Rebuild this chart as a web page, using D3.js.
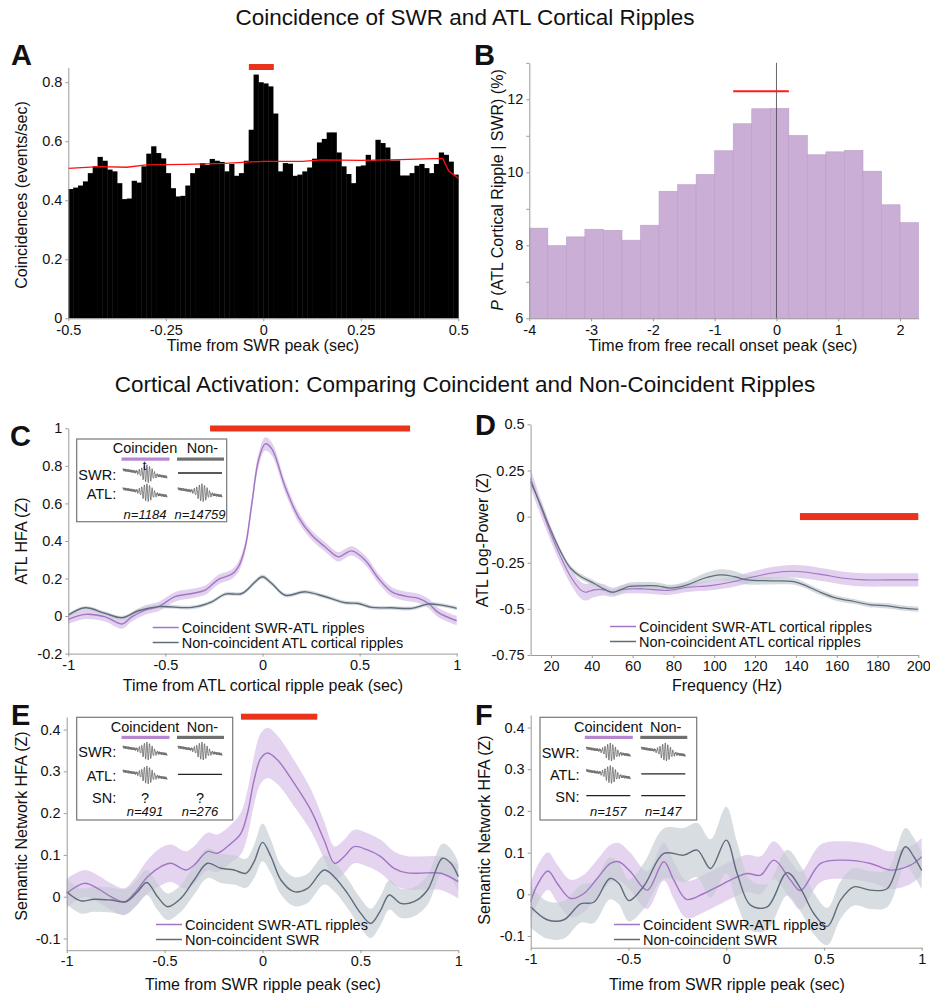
<!doctype html>
<html lang="en">
<head>
<meta charset="utf-8">
<title>Coincidence of SWR and ATL Cortical Ripples</title>
<script src="https://cdn.jsdelivr.net/npm/d3@7"></script>
<style>
body { margin: 0; background: #fff; }
</style>
</head>
<body>
<div id="chart"></div>
<script>

// ---- data ----

// A: coincidence histogram, 80 bins of 12.5 ms from -0.5 s
var aBinStart = -0.5, aBinWidth = 0.0125;
var aCounts = [0.438,0.443,0.45,0.464,0.492,0.515,0.547,0.534,0.504,0.498,
               0.458,0.404,0.406,0.466,0.46,0.515,0.558,0.583,0.56,0.542,
               0.492,0.441,0.413,0.415,0.45,0.492,0.509,0.526,0.52,0.54,
               0.534,0.53,0.498,0.523,0.483,0.492,0.534,0.639,0.826,0.80,
               0.796,0.786,0.694,0.498,0.526,0.524,0.483,0.487,0.498,0.511,
               0.541,0.596,0.608,0.63,0.63,0.562,0.515,0.489,0.458,0.515,
               0.518,0.554,0.535,0.605,0.594,0.579,0.535,0.535,0.484,0.484,
               0.492,0.517,0.523,0.509,0.492,0.523,0.562,0.554,0.531,0.487];
// A: expected (shuffled) rate, red line
var aExpected = [[-0.5,0.508],[-0.42,0.514],[-0.35,0.512],[-0.3,0.52],[-0.2,0.522],
                 [-0.1,0.525],[0,0.532],[0.1,0.532],[0.15,0.537],[0.25,0.535],
                 [0.35,0.538],[0.46,0.542],[0.475,0.50],[0.5,0.475]];
var aSig = [-0.037, 0.027];

// B: P(ATL ripple | SWR), 0.3 s bins from -4 s
var bBinStart = -4, bBinWidth = 0.3;
var bValues = [8.47,7.99,8.23,8.44,8.41,8.14,8.55,9.48,9.66,9.94,10.59,
               11.33,11.74,11.75,11.01,10.48,10.56,10.6,10.03,9.11,8.62];
var bSig = [-0.7, 0.2], bSigY = 12.22;

// C: ATL HFA, [time, mean, sem]
var cCoinc = [[-1,-0.018,.025],[-0.913,0.009,.025],[-0.81,-0.004,.025],[-0.724,-0.042,.025],
  [-0.673,-0.004,.025],[-0.604,0.032,.025],[-0.536,0.05,.025],[-0.45,0.103,.025],
  [-0.364,0.12,.025],[-0.295,0.138,.025],[-0.227,0.195,.025],[-0.158,0.223,.025],
  [-0.124,0.262,.028],[-0.089,0.368,.03],[-0.055,0.598,.032],[-0.021,0.828,.035],
  [0.014,0.917,.035],[0.048,0.89,.035],[0.117,0.687,.03],[0.185,0.527,.028],
  [0.254,0.43,.025],[0.323,0.368,.025],[0.391,0.315,.025],[0.426,0.333,.025],
  [0.46,0.347,.025],[0.529,0.297,.025],[0.597,0.2,.025],[0.666,0.129,.025],
  [0.735,0.106,.025],[0.803,0.094,.025],[0.855,0.067,.025],[0.906,0.018,.025],[1,-0.025,.025]];
var cNon = [[-1,0.005,.01],[-0.913,0.044,.01],[-0.81,0.014,.01],[-0.724,-0.009,.01],
  [-0.639,0.028,.01],[-0.536,0.05,.01],[-0.364,0.046,.01],[-0.261,0.076,.01],
  [-0.192,0.117,.01],[-0.106,0.12,.01],[-0.038,0.182,.012],[0,0.209,.012],
  [0.048,0.173,.012],[0.117,0.111,.01],[0.22,0.129,.01],[0.323,0.103,.01],
  [0.426,0.071,.01],[0.494,0.067,.01],[0.563,0.046,.01],[0.666,0.044,.01],
  [0.769,0.041,.01],[0.855,0.064,.01],[0.923,0.058,.01],[1,0.041,.01]];
var cSig = [-0.27, 0.76];

// D: ATL log-power spectrum, [Hz, mean, sem]
var dCoinc = [[10,0.208,.05],[14.9,0.054,.045],[19.8,-0.09,.04],[24.7,-0.217,.04],
  [29.6,-0.325,.04],[34.5,-0.397,.045],[37,-0.41,.045],[41,-0.397,.04],[46,-0.397,.03],
  [50,-0.41,.025],[55.8,-0.393,.025],[65.6,-0.392,.025],[77,-0.4,.025],[86.8,-0.383,.025],
  [98.2,-0.374,.025],[108,-0.356,.028],[117.8,-0.33,.03],[127.6,-0.307,.032],
  [137.5,-0.296,.034],[144,-0.3,.035],[153.8,-0.316,.035],[163.6,-0.334,.035],
  [173.4,-0.343,.036],[184.8,-0.343,.036],[200,-0.343,.036]];
var dNon = [[10,0.19,.02],[14.9,0.063,.02],[19.8,-0.072,.018],[24.7,-0.19,.016],
  [29.6,-0.28,.015],[34.5,-0.325,.015],[41,-0.361,.015],[46,-0.393,.015],[50,-0.41,.015],
  [54,-0.397,.018],[58,-0.379,.02],[65.6,-0.375,.02],[72,-0.375,.018],[78.6,-0.388,.018],
  [86.8,-0.37,.02],[95,-0.334,.025],[103,-0.316,.03],[109.7,-0.325,.03],[116,-0.343,.025],
  [127.6,-0.348,.02],[139,-0.352,.018],[144,-0.37,.016],[152,-0.41,.015],[160,-0.442,.015],
  [168.5,-0.46,.014],[176.7,-0.478,.014],[184.8,-0.484,.014],[193,-0.496,.014],[200,-0.502,.014]];
var dSig = [142, 200];

// E: semantic network HFA, SWR coincident vs not
var eCoinc = [[-1,0.008,.035],[-0.91,0.032,.032],[-0.843,0.02,.032],[-0.774,0,.032],
  [-0.706,-0.012,.032],[-0.655,0.008,.035],[-0.587,0.048,.04],[-0.519,0.072,.045],
  [-0.468,0.08,.045],[-0.391,0.064,.045],[-0.349,0.076,.045],[-0.281,0.108,.045],
  [-0.23,0.104,.045],[-0.162,0.127,.045],[-0.111,0.151,.05],[-0.077,0.199,.055],
  [-0.043,0.279,.058],[-0.009,0.331,.06],[0.026,0.344,.06],[0.077,0.327,.058],
  [0.162,0.271,.055],[0.247,0.207,.05],[0.315,0.135,.045],[0.369,0.08,.04],
  [0.417,0.096,.04],[0.468,0.12,.04],[0.536,0.112,.04],[0.604,0.096,.04],
  [0.672,0.068,.04],[0.74,0.057,.04],[0.843,0.057,.04],[0.911,0.056,.04],[1,0.036,.04]];
var eNon = [[-1,0.012,.03],[-0.928,-0.01,.03],[-0.86,-0.006,.03],[-0.774,-0.008,.03],
  [-0.698,-0.012,.03],[-0.638,0.012,.03],[-0.591,0.034,.03],[-0.536,0,.032],
  [-0.485,-0.024,.032],[-0.417,-0.004,.032],[-0.349,0.04,.035],[-0.281,0.08,.035],
  [-0.213,0.068,.035],[-0.145,0.064,.035],[-0.085,0.056,.035],[-0.043,0.084,.04],
  [0,0.13,.045],[0.043,0.096,.04],[0.094,0.04,.035],[0.162,0.012,.035],[0.23,0.02,.035],
  [0.315,0.064,.035],[0.366,0.048,.035],[0.434,0.008,.035],[0.502,-0.04,.035],
  [0.553,-0.064,.035],[0.604,-0.032,.035],[0.647,0.004,.035],[0.706,-0.016,.035],
  [0.774,-0.012,.035],[0.843,0.016,.035],[0.919,0.092,.035],[0.962,0.08,.035],[1,0.048,.035]];
var eSig = [-0.11, 0.28];

// F: semantic network HFA, no SN ripple
var fCoinc = [[-1,-0.018,.045],[-0.967,0.022,.045],[-0.912,0.056,.045],[-0.864,0.026,.045],
  [-0.796,-0.01,.045],[-0.728,0.002,.045],[-0.66,0.038,.045],[-0.592,0.074,.045],
  [-0.549,0.078,.045],[-0.489,0.054,.045],[-0.404,0.01,.045],[-0.319,0.078,.045],
  [-0.268,0.034,.045],[-0.203,-0.012,.045],[-0.114,0.002,.045],[-0.046,0.018,.045],
  [0.039,0.038,.045],[0.107,0.05,.045],[0.176,0.046,.045],[0.244,0.082,.045],
  [0.329,0.034,.045],[0.38,0.009,.045],[0.483,0.074,.045],[0.602,0.082,.045],
  [0.738,0.074,.045],[0.841,0.058,.045],[0.943,0.07,.045],[1,0.09,.045]];
var fNon = [[-1,-0.03,.05],[-0.916,-0.061,.045],[-0.83,-0.061,.045],[-0.745,-0.023,.045],
  [-0.677,-0.019,.05],[-0.595,0.038,.05],[-0.549,0.026,.05],[-0.498,-0.015,.05],
  [-0.421,0.02,.055],[-0.319,0.098,.06],[-0.217,0.094,.065],[-0.148,0.106,.065],
  [-0.08,0.062,.07],[0,0.13,.08],[0.056,0.05,.075],[0.124,-0.026,.06],[0.21,-0.03,.055],
  [0.312,0.052,.055],[0.38,0.014,.055],[0.448,-0.046,.05],[0.517,-0.077,.045],
  [0.585,-0.014,.045],[0.653,0.018,.045],[0.738,0.01,.045],[0.824,0.014,.045],
  [0.917,0.114,.045],[0.96,0.09,.045],[1,0.057,.045]];

// tick values
var aXTicks = [-0.5,-0.25,0,0.25,0.5], aYTicks = [0,0.2,0.4,0.6,0.8];
var bXTicks = [-4,-3,-2,-1,0,1,2], bYTicks = [6,7,8,9,10,11,12,13];
var cXTicks = [-1,-0.5,0,0.5,1], cYTicks = [-0.2,0,0.2,0.4,0.6,0.8,1];
var dXTicks = [20,40,60,80,100,120,140,160,180,200], dYTicks = [-0.75,-0.5,-0.25,0,0.25,0.5];
var efYTicks = [-0.1,0,0.1,0.2,0.3,0.4];

// ---- drawing ----
var FONT = '"Liberation Sans", Arial, Helvetica, sans-serif';
var PURPLE = "#a374c4", PURPLE_BAND = "#d8c2e8";
var GREY = "#5e6c7b", GREY_BAND = "#c3cbd1";
var RED = "#e8341c";

var svg = d3.select("#chart").append("svg")
    .attr("width", 930)
    .attr("height", 993)
    .attr("font-family", FONT);

function fmt(d) { return String(+d.toFixed(3)); }

function styleAxis(g) {
	g.attr("font-family", FONT).attr("font-size", 14.5);
	g.select(".domain").attr("stroke", "#9a9a9a");
	g.selectAll(".tick line").attr("stroke", "#9a9a9a");
	g.selectAll(".tick text").attr("fill", "#111");
}

function addAxes(x, y, xt, yt, yfmt) {
	svg.append("g")
		.attr("transform", "translate(0," + y.range()[0] + ")")
		.call(d3.axisBottom(x).tickValues(xt).tickFormat(fmt).tickSizeInner(3).tickSizeOuter(0))
		.call(styleAxis);
	svg.append("g")
		.attr("transform", "translate(" + x.range()[0] + ",0)")
		.call(d3.axisLeft(y).tickValues(yt).tickFormat(yfmt || fmt).tickSizeInner(3).tickSizeOuter(0))
		.call(styleAxis);
}

function text(str, x, y, opts) {
	opts = opts || {};
	var t = svg.append("text")
		.attr("x", x).attr("y", y)
		.attr("font-size", opts.size || 16)
		.attr("text-anchor", opts.anchor || "middle")
		.attr("fill", "#111")
		.text(str);
	if (opts.bold) t.attr("font-weight", "bold");
	if (opts.italic) t.attr("font-style", "italic");
	if (opts.rotate) t.attr("transform", "rotate(-90," + x + "," + y + ")");
	return t;
}

var curve = d3.curveCatmullRom.alpha(0.5);

function band(x, y, data, fill, op) {
	svg.append("path").datum(data)
		.attr("d", d3.area().curve(curve)
			.x(function(d) { return x(d[0]); })
			.y0(function(d) { return y(d[1] - d[2]); })
			.y1(function(d) { return y(d[1] + d[2]); }))
		.attr("fill", fill).attr("opacity", op);
}

function line(x, y, data, stroke, w) {
	svg.append("path").datum(data)
		.attr("d", d3.line().curve(curve)
			.x(function(d) { return x(d[0]); })
			.y(function(d) { return y(d[1]); }))
		.attr("fill", "none").attr("stroke", stroke).attr("stroke-width", w || 1.4);
}

function legend(x0, y0, items) {
	items.forEach(function(it, i) {
		var yy = y0 + i * 15;
		svg.append("line").attr("x1", x0).attr("x2", x0 + 26).attr("y1", yy).attr("y2", yy)
			.attr("stroke", it.color).attr("stroke-width", 1.5);
		text(it.label, x0 + 29, yy + 5, {size: 14.5, anchor: "start"});
	});
}

function sigBar(x, x0, x1, yy, h) {
	svg.append("rect").attr("x", x(x0)).attr("y", yy - h / 2)
		.attr("width", x(x1) - x(x0)).attr("height", h).attr("fill", RED);
}

// wave-packet icon used in the small legend boxes
function wavePacket(x0, x1, yc, amp) {
	var pts = [];
	for (var i = 0; i <= 180; i++) {
		var t = i / 180;
		var env = Math.exp(-Math.pow((t - 0.55) / 0.16, 2));
		var car = Math.sin(t * 2 * Math.PI * 17);
		var jit = 0.15 * Math.sin(t * 2 * Math.PI * 41);
		var tilt = (t - 0.45) * amp * 0.8;
		pts.push([x0 + t * (x1 - x0), yc + tilt - amp * (env * car + (1 - env) * jit)]);
	}
	svg.append("path").attr("d", d3.line()(pts))
		.attr("fill", "none").attr("stroke", "#555").attr("stroke-width", 0.7);
}

function inset(o) {
	var L = o.left, T = o.top;
	svg.append("rect").attr("x", L).attr("y", T).attr("width", o.w).attr("height", o.h)
		.attr("fill", "#fff").attr("stroke", "#777").attr("stroke-width", 1.2);
	var c1 = L + 68.3, c2 = L + 123.3;
	text(o.head[0], c1, T + 14.3, {size: 14.5});
	text(o.head[1], c2 - 13.3, T + 14.3, {size: 14.5, anchor: "start"});
	svg.append("rect").attr("x", c1 - 23.5).attr("y", T + 18.5).attr("width", 48).attr("height", 3.2).attr("fill", "#b487d0");
	svg.append("rect").attr("x", c2 - 23).attr("y", T + 18.5).attr("width", 47).attr("height", 3.2).attr("fill", "#707070");
	o.rows.forEach(function(r, i) {
		var yc = T + o.rowY[i];
		text(r[0], L + 39.5, yc + 6.5, {size: 14.5, anchor: "end"});
		[c1, c2].forEach(function(c, j) {
			var kind = r[j + 1];
			if (kind === "wave") wavePacket(c - 22, c + 22, yc, 9);
			else if (kind === "line")
				svg.append("line").attr("x1", c - 22).attr("x2", c + 22).attr("y1", yc).attr("y2", yc)
					.attr("stroke", "#222").attr("stroke-width", 1.3);
			else text(kind, c, yc + 6.5, {size: 14.5});
		});
	});
	text(o.n[0], c1, T + o.nY, {size: 13, italic: true});
	text(o.n[1], c2, T + o.nY, {size: 13, italic: true});
}

// titles
text("Coincidence of SWR and ATL Cortical Ripples", 465, 25, {size: 22.5});
text("Cortical Activation: Comparing Coincident and Non-Coincident Ripples", 465, 392, {size: 22.5});

// ---------- A ----------
var ax = d3.scaleLinear().domain([-0.5, 0.5]).range([68.3, 458.3]);
var ay = d3.scaleLinear().domain([0, 0.85]).range([318.3, 67.5]);
svg.append("g").selectAll("rect").data(aCounts).enter().append("rect")
	.attr("x", function(d, i) { return ax(aBinStart + i * aBinWidth); })
	.attr("width", ax(aBinWidth) - ax(0) + 0.4)
	.attr("y", function(d) { return ay(d); })
	.attr("height", function(d) { return ay(0) - ay(d); })
	.attr("fill", "#000");
svg.append("path").datum(aExpected)
	.attr("d", d3.line().x(function(d) { return ax(d[0]); }).y(function(d) { return ay(d[1]); }))
	.attr("fill", "none").attr("stroke", "#ff1010").attr("stroke-width", 1.3);
addAxes(ax, ay, aXTicks, aYTicks);
sigBar(ax, aSig[0], aSig[1], 67, 6);
text("Coincidences (events/sec)", 27, 195, {rotate: true});
text("Time from SWR peak (sec)", 263, 351);
text("A", 11, 65, {size: 29, bold: true, anchor: "start"});

// ---------- B ----------
var bx = d3.scaleLinear().domain([-4, 2.3]).range([529.3, 918.6]);
var by = d3.scaleLinear().domain([6, 13]).range([318.3, 62.8]);
svg.append("g").selectAll("rect").data(bValues).enter().append("rect")
	.attr("x", function(d, i) { return bx(bBinStart + i * bBinWidth); })
	.attr("width", bx(bBinWidth) - bx(0))
	.attr("y", function(d) { return by(d); })
	.attr("height", function(d) { return by(6) - by(d); })
	.attr("fill", "#cbaed6").attr("stroke", "#b99dc7").attr("stroke-width", 0.6);
svg.append("line").attr("x1", bx(0)).attr("x2", bx(0)).attr("y1", by(13)).attr("y2", by(6))
	.attr("stroke", "#555").attr("stroke-width", 0.9);
svg.append("line").attr("x1", bx(bSig[0])).attr("x2", bx(bSig[1]))
	.attr("y1", by(bSigY)).attr("y2", by(bSigY)).attr("stroke", "#ff1a1a").attr("stroke-width", 2);
addAxes(bx, by, bXTicks, bYTicks, function(d) { return d % 2 === 0 ? d : ""; });
var bl = text("", 503, 190, {rotate: true});
bl.append("tspan").attr("font-style", "italic").text("P");
bl.append("tspan").text(" (ATL Cortical Ripple | SWR) (%)");
text("Time from free recall onset peak (sec)", 723, 351);
text("B", 474, 65, {size: 29, bold: true, anchor: "start"});

// ---------- C ----------
var cx = d3.scaleLinear().domain([-1, 1]).range([68.3, 456.7]);
var cy = d3.scaleLinear().domain([-0.2, 1]).range([653.6, 428.3]);
band(cx, cy, cCoinc, PURPLE_BAND, 0.75);
band(cx, cy, cNon, GREY_BAND, 0.7);
line(cx, cy, cCoinc, PURPLE);
line(cx, cy, cNon, GREY);
addAxes(cx, cy, cXTicks, cYTicks);
sigBar(cx, cSig[0], cSig[1], 428.5, 6);
legend(152.7, 627.5, [{label: "Coincident SWR-ATL ripples", color: PURPLE},
                      {label: "Non-coincident ATL cortical ripples", color: GREY}]);
inset({left: 76.7, top: 439, w: 150, h: 82.7, head: ["Coinciden", "Non-"],
	rows: [["SWR:", "wave", "line"], ["ATL:", "wave", "wave"]], rowY: [34, 53],
	n: ["n=1184", "n=14759"], nY: 79.5});
text("t", 144.5, 470, {size: 13});
text("ATL HFA (Z)", 27, 541, {rotate: true});
text("Time from ATL cortical ripple peak (sec)", 263, 691);
text("C", 10, 446, {size: 29, bold: true, anchor: "start"});

// ---------- D ----------
var dx = d3.scaleLinear().domain([10, 200]).range([530.6, 918.3]);
var dy = d3.scaleLinear().domain([-0.75, 0.5]).range([655, 424.3]);
band(dx, dy, dCoinc, PURPLE_BAND, 0.75);
band(dx, dy, dNon, GREY_BAND, 0.7);
line(dx, dy, dCoinc, PURPLE, 1.1);
line(dx, dy, dNon, GREY, 1.2);
addAxes(dx, dy, dXTicks, dYTicks);
sigBar(dx, dSig[0], dSig[1], dy(0), 7);
legend(610, 626.5, [{label: "Coincident SWR-ATL cortical ripples", color: PURPLE},
                    {label: "Non-coincident ATL cortical ripples", color: GREY}]);
text("ATL Log-Power (Z)", 488, 540, {rotate: true});
text("Frequency (Hz)", 727, 691);
text("D", 475, 435, {size: 29, bold: true, anchor: "start"});

// ---------- E ----------
var ex = d3.scaleLinear().domain([-1, 1]).range([66.7, 458.3]);
var ey = d3.scaleLinear().domain([-0.128, 0.43]).range([950.2, 717]);
band(ex, ey, eCoinc, PURPLE_BAND, 0.7);
band(ex, ey, eNon, GREY_BAND, 0.65);
line(ex, ey, eCoinc, PURPLE);
line(ex, ey, eNon, GREY);
addAxes(ex, ey, cXTicks, efYTicks);
sigBar(ex, eSig[0], eSig[1], 716.7, 6);
legend(156, 924.5, [{label: "Coincident SWR-ATL ripples", color: PURPLE},
                    {label: "Non-coincident SWR", color: GREY}]);
inset({left: 76.7, top: 717.3, w: 156, h: 102.7, head: ["Coincident", "Non-"],
	rows: [["SWR:", "wave", "wave"], ["ATL:", "wave", "line"], ["SN:", "?", "?"]],
	rowY: [33, 57, 78.7], n: ["n=491", "n=276"], nY: 98.7});
text("Semantic Network HFA (Z)", 27, 826, {rotate: true});
text("Time from SWR ripple peak (sec)", 263, 990);
text("E", 11, 725, {size: 29, bold: true, anchor: "start"});

// ---------- F ----------
var fx = d3.scaleLinear().domain([-1, 1]).range([530.7, 921.7]);
var fy = d3.scaleLinear().domain([-0.128, 0.43]).range([947.7, 715]);
band(fx, fy, fCoinc, PURPLE_BAND, 0.7);
band(fx, fy, fNon, GREY_BAND, 0.65);
line(fx, fy, fCoinc, PURPLE);
line(fx, fy, fNon, GREY);
addAxes(fx, fy, cXTicks, efYTicks);
legend(614, 924.5, [{label: "Coincident SWR-ATL ripples", color: PURPLE},
                    {label: "Non-coincident SWR", color: GREY}]);
inset({left: 540, top: 717.3, w: 156.7, h: 102.7, head: ["Coincident", "Non-"],
	rows: [["SWR:", "wave", "wave"], ["ATL:", "wave", "line"], ["SN:", "line", "line"]],
	rowY: [34, 56.5, 78.4], n: ["n=157", "n=147"], nY: 98.7});
text("Semantic Network HFA (Z)", 490, 830, {rotate: true});
text("Time from SWR ripple peak (sec)", 727, 990);
text("F", 475, 725, {size: 29, bold: true, anchor: "start"});

</script>
</body>
</html>
